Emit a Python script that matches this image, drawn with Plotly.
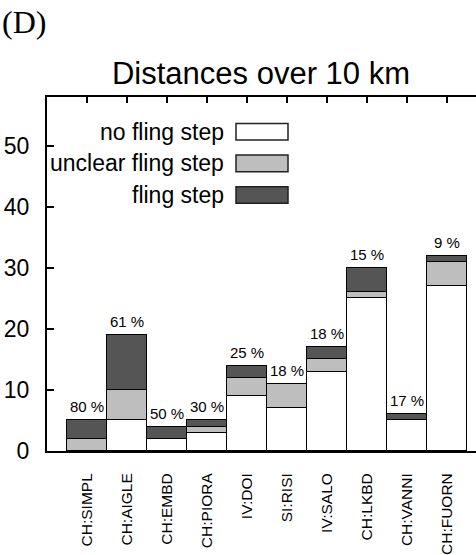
import plotly.graph_objects as go

stations = ["CH:SIMPL", "CH:AIGLE", "CH:EMBD", "CH:PIORA", "IV:DOI",
            "SI:RISI", "IV:SALO", "CH:LKBD", "CH:VANNI", "CH:FUORN"]
no_fling = [0, 5, 2, 3, 9, 7, 13, 25, 5, 27]
unclear_fling = [2, 5, 0, 1, 3, 4, 2, 1, 0, 4]
fling = [3, 9, 2, 1, 2, 0, 2, 4, 1, 1]
percent_labels = ["80 %", "61 %", "50 %", "30 %", "25 %", "18 %", "18 %", "15 %", "17 %", "9 %"]
series_names = ["no fling step", "unclear fling step", "fling step"]
series_colors = ["#ffffff", "#bebebe", "#555555"]

FONT = "Liberation Sans, Arial, sans-serif"

fig = go.Figure()
for name, vals, col in zip(series_names, [no_fling, unclear_fling, fling], series_colors):
    fig.add_trace(go.Bar(
        x=stations, y=vals, name=name,
        marker=dict(color=col, line=dict(color="#000000", width=1.5)),
        showlegend=False,
    ))

# invisible trace to make the top axis (ticks) appear
fig.add_trace(go.Scatter(x=stations, y=[0] * len(stations), xaxis="x2",
                         mode="markers", marker=dict(opacity=0),
                         showlegend=False, hoverinfo="skip"))

totals = [a + b + c for a, b, c in zip(no_fling, unclear_fling, fling)]
annotations = []
for s, t, lab in zip(stations, totals, percent_labels):
    annotations.append(dict(x=s, y=t, text=lab, showarrow=False, xref="x", yref="y",
                            yanchor="bottom", yshift=3,
                            font=dict(family=FONT, size=15, color="#000")))

# manual gnuplot-style legend
W, H = 476, 555
ML, MR, MT, MB = 47, 0, 97, 104
PW = W - ML - MR
PH = H - MT - MB


def px_x(p):
    return (p - ML) / PW


def px_y(p):
    return (H - MB - p) / PH


shapes = []
rows = [(123.5, 140.0), (155.0, 171.7), (186.7, 203.3)]
for (top, bot), name, col in zip(rows, series_names, series_colors):
    shapes.append(dict(type="rect", xref="paper", yref="paper",
                       x0=px_x(236), x1=px_x(288), y0=px_y(bot), y1=px_y(top),
                       fillcolor=col, line=dict(color="#222222", width=1.5)))
    annotations.append(dict(xref="paper", yref="paper", x=px_x(226), y=px_y((top + bot) / 2),
                            xanchor="right", yanchor="middle", text=name, showarrow=False,
                            font=dict(family=FONT, size=23, color="#000")))

annotations.append(dict(xref="paper", yref="paper", x=px_x(0), y=px_y(22),
                        xanchor="left", yanchor="middle", text="(D)", showarrow=False,
                        font=dict(family="Liberation Serif, DejaVu Serif, serif", size=32, color="#000")))

fig.update_layout(
    width=W, height=H,
    margin=dict(l=ML, r=MR, t=MT, b=MB, pad=0, autoexpand=False),
    paper_bgcolor="white", plot_bgcolor="white",
    barmode="stack", bargap=0,
    title=dict(text="Distances over 10 km", x=261 / W, xanchor="center",
               y=1 - 73 / H, yanchor="middle",
               font=dict(family=FONT, size=31, color="#000")),
    xaxis=dict(type="category", categoryorder="array", categoryarray=stations,
               range=[-1, 9.725], showline=True, linecolor="#000", linewidth=2,
               ticks="", tickangle=-90, ticklabelstandoff=14, automargin=False,
               tickfont=dict(family=FONT, size=15.5, color="#000"),
               showgrid=False, zeroline=False),
    xaxis2=dict(type="category", categoryorder="array", categoryarray=stations,
                overlaying="x", side="top", matches="x", automargin=False,
                showline=True, linecolor="#000", linewidth=2,
                ticks="inside", ticklen=6, tickwidth=1.5, tickcolor="#000",
                showticklabels=False, showgrid=False, zeroline=False),
    yaxis=dict(range=[0, 58], dtick=10, tick0=0, showline=True, linecolor="#000", linewidth=2,
               ticks="inside", ticklen=7, tickwidth=1.5, tickcolor="#000",
               ticklabelstandoff=11, automargin=False,
               tickfont=dict(family=FONT, size=23, color="#000"),
               showgrid=False, zeroline=False),
    annotations=annotations,
    shapes=shapes,
)

fig.write_html("out.html")
